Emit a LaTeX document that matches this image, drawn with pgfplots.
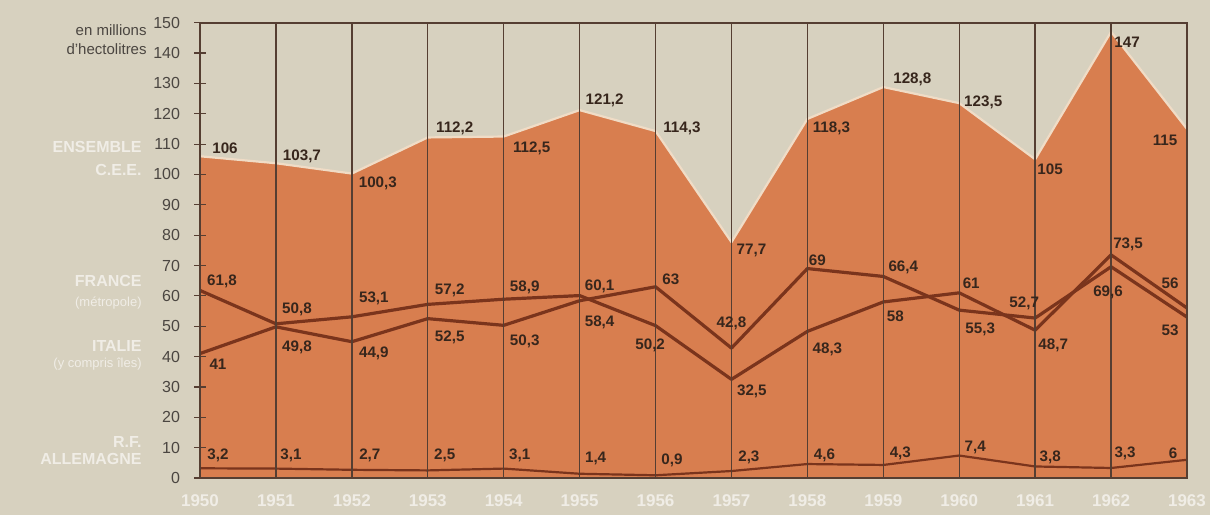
\documentclass[border=0pt]{standalone}
\usepackage{pgfplots}
\pgfplotsset{compat=1.18}
\usepackage{pgfplotstable}
\usepackage{fontspec}
\setmainfont{Liberation Sans}

\definecolor{bg}{RGB}{215,209,191}
\definecolor{orangefill}{RGB}{216,126,79}
\definecolor{brownline}{RGB}{122,52,28}
\definecolor{labeltext}{RGB}{55,38,28}
\definecolor{gridc}{RGB}{85,62,50}
\definecolor{edgec}{RGB}{240,220,198}
\definecolor{tickc}{RGB}{75,70,65}
\definecolor{paleW}{RGB}{240,237,230}

\pgfplotstableread{
year v dx dy lab
1950 106 12.5 4.2 106
1951 103.7 13 3.2 103,7
1952 100.3 13 -4.7 100,3
1953 112.2 13.5 4.7 112,2
1954 112.5 14 -5.7 112,5
1955 121.2 12.5 5.1 121,2
1956 114.3 13.2 1.5 114,3
1957 77.7 10 -3.9 77,7
1958 118.3 12 -4.5 118,3
1959 128.8 14.5 4 128,8
1960 123.5 12 0.6 123,5
1961 105 7.5 -4.8 105
1962 147 8 -5 147
1963 115 -11 -5.5 115
}\cee

\pgfplotstableread{
year v dx dy lab
1950 61.8 11 4.7 61,8
1951 50.8 10.5 7.4 50,8
1952 53.1 11 9.4 53,1
1953 57.2 11 7.2 57,2
1954 58.9 10.5 6 58,9
1955 60.1 10 4.8 60,1
1956 50.2 -2.7 -9.7 50,2
1957 32.5 10.2 -5.8 32,5
1958 48.3 10 -8.8 48,3
1959 58 6 -7 58
1960 61 6 5 61
1961 48.7 9 -7.4 48,7
1962 73.5 8.5 5.5 73,5
1963 56 -8.5 12.5 56
}\france

\pgfplotstableread{
year v dx dy lab
1950 41 9 -5.2 41
1951 49.8 10.5 -10.5 49,8
1952 44.9 11 -5.6 44,9
1953 52.5 11 -9.6 52,5
1954 50.3 10.5 -7.8 50,3
1955 58.4 10 -11 58,4
1956 63 7.7 3.9 63
1957 42.8 0 12.5 42,8
1958 69 5 4.3 69
1959 66.4 10 4.7 66,4
1960 55.3 10.5 -9.4 55,3
1961 52.7 -5.5 7.5 52,7
1962 69.6 -1.5 -13 69,6
1963 53 -8.5 -6.5 53
}\italie

\pgfplotstableread{
year v dx dy lab
1950 3.2 9 6.6 3,2
1951 3.1 7.5 6.8 3,1
1952 2.7 9 7.4 2,7
1953 2.5 8.5 7.7 2,5
1954 3.1 8 6.8 3,1
1955 1.4 8 7.9 1,4
1956 0.9 8.2 7.6 0,9
1957 2.3 8.7 7 2,3
1958 4.6 8.5 4.5 4,6
1959 4.3 8.5 6 4,3
1960 7.4 8 4.2 7,4
1961 3.8 7.5 4.7 3,8
1962 3.3 7 7.5 3,3
1963 6 -7 3.4 6
}\allemagne

\pgfplotsset{
  vlabels/.style={
    draw=none, mark=none, nodes near coords, point meta=explicit symbolic,
    visualization depends on={\thisrow{dx}\as\dx},
    visualization depends on={\thisrow{dy}\as\dy},
    nodes near coords style={anchor=center, inner sep=0pt, xshift=\dx pt, yshift=\dy pt,
      font=\bfseries\fontsize{7.6}{8}\selectfont, text=labeltext},
  },
}

\begin{document}
\begin{tikzpicture}
\useasboundingbox (0,0) rectangle (605pt,257.5pt);
\fill[bg] (0,0) rectangle (605pt,257.5pt);
\begin{axis}[
  at={(100pt,18.5pt)}, anchor=south west,
  scale only axis, width=493.5pt, height=227.65pt,
  xmin=1950, xmax=1963, ymin=0, ymax=150,
  enlargelimits=false, clip=false,
  xtick={1950,1951,...,1963}, ytick={0,10,...,150},
  ytick pos=left,
  /pgf/number format/assume math mode=true,
  /pgf/number format/1000 sep={},
  xticklabel style={anchor=center, yshift=-8.5pt, text=paleW, font=\bfseries\fontsize{8.5}{9}\selectfont},
  yticklabel style={xshift=-3.5pt, text=tickc, font=\fontsize{8}{9}\selectfont},
  xtick style={draw=none},
  ytick style={gridc, line width=0.6pt},
  tick align=center, major tick length=6pt,
  xmajorgrids, grid style={gridc, line width=0.7pt},
  axis line style={gridc, line width=0.8pt},
  axis on top,
]
\addplot[fill=orangefill, draw=none] table[x=year, y=v]{\cee} \closedcycle;
\addplot[edgec, line width=1.1pt, line join=round] table[x=year, y=v]{\cee};
\addplot[brownline, line width=1.6pt, line join=round] table[x=year, y=v]{\italie};
\addplot[brownline, line width=1.6pt, line join=round] table[x=year, y=v]{\france};
\addplot[brownline, line width=1.1pt, line join=round] table[x=year, y=v]{\allemagne};
\addplot[vlabels] table[x=year, y=v, meta=lab]{\cee};
\addplot[vlabels] table[x=year, y=v, meta=lab]{\france};
\addplot[vlabels] table[x=year, y=v, meta=lab]{\italie};
\addplot[vlabels] table[x=year, y=v, meta=lab]{\allemagne};
\end{axis}
% y unit caption
\begin{scope}[every node/.style={anchor=east, inner sep=0pt, text=tickc, font=\fontsize{7.5}{8}\selectfont}]
\node at (73.5pt,242.5pt) {en millions};
\node at (73.5pt,233pt) {d'hectolitres};
\end{scope}
% series names
\begin{scope}[every node/.style={anchor=east, inner sep=0pt, text=paleW, font=\bfseries\fontsize{8}{9}\selectfont}]
\node at (71pt,184pt) {ENSEMBLE};
\node at (71pt,172.5pt) {C.E.E.};
\node at (71pt,117pt) {FRANCE};
\node[font=\fontsize{6.5}{7}\selectfont] at (71pt,106pt) {(métropole)};
\node at (71pt,84.5pt) {ITALIE};
\node[font=\fontsize{6.5}{7}\selectfont] at (71pt,75.5pt) {(y compris îles)};
\node at (71pt,36.5pt) {R.F.};
\node at (71pt,28pt) {ALLEMAGNE};
\end{scope}
\end{tikzpicture}
\end{document}
